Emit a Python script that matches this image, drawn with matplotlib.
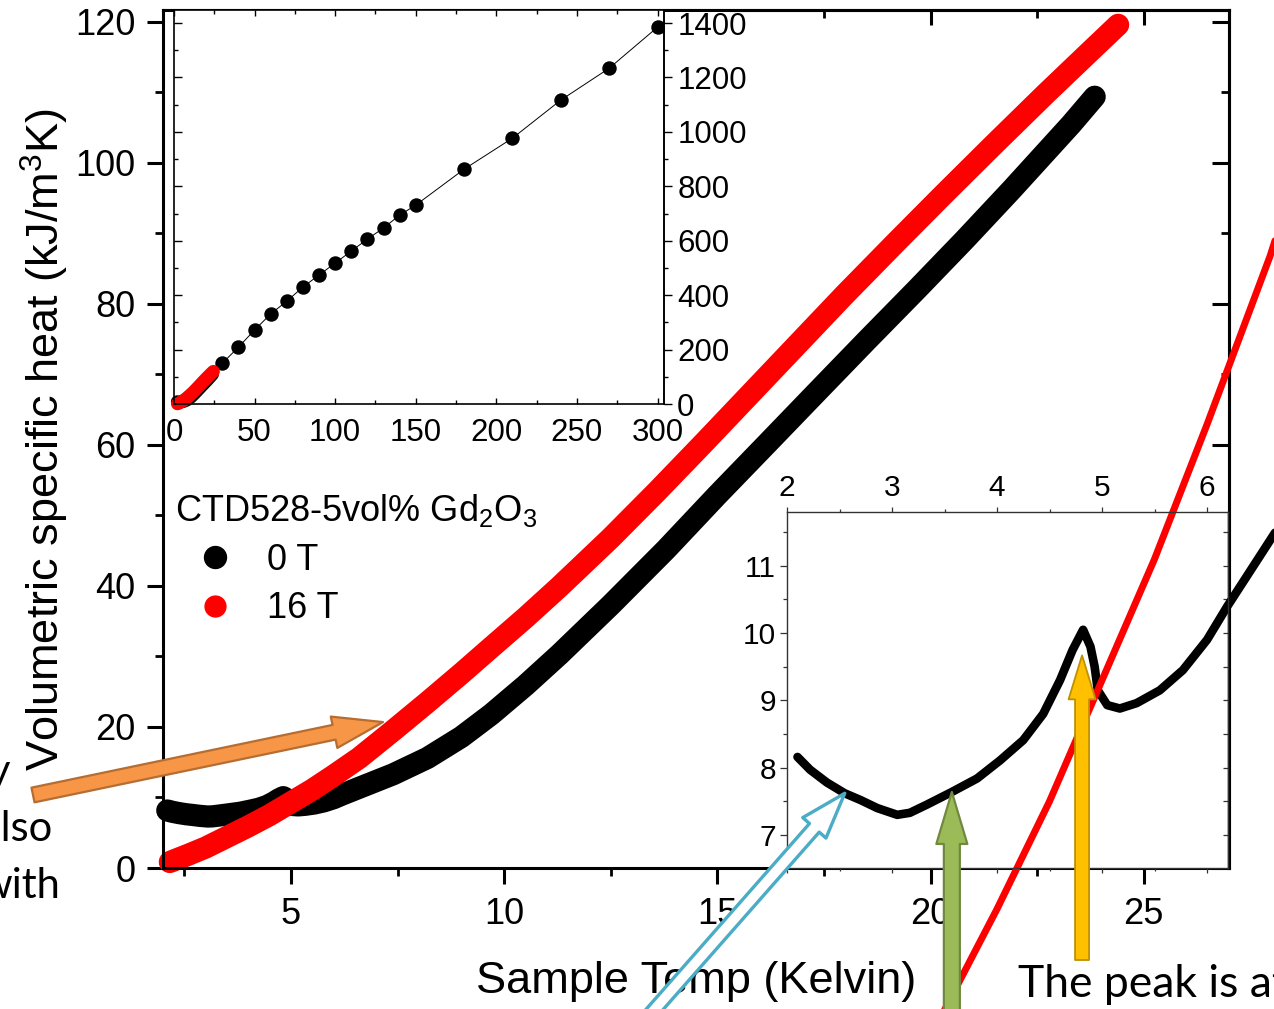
import numpy as np
import matplotlib.pyplot as plt
from matplotlib.lines import Line2D
from matplotlib.patches import Rectangle
from matplotlib.ticker import MultipleLocator

plt.rcParams['font.family'] = ['Liberation Sans', 'DejaVu Sans']
plt.rcParams['mathtext.default'] = 'regular'

# specific heat, 0 T (K, kJ/m^3K)
t_0T = [2.10, 2.22, 2.38, 2.55, 2.70, 2.86, 3.05, 3.17, 3.33, 3.57, 3.81, 4.03,
        4.25, 4.44, 4.60, 4.72, 4.82, 4.89, 4.93, 4.96, 5.05, 5.17, 5.33, 5.55,
        5.77, 6.00, 6.19, 6.63, 7.40, 8.20, 9.00, 9.70, 10.5, 11.3, 12.5, 13.8,
        15.0, 16.2, 17.3, 18.5, 19.7, 20.8, 21.9, 23.3, 23.85]
c_0T = [8.16, 7.97, 7.78, 7.62, 7.52, 7.40, 7.30, 7.33, 7.45, 7.64, 7.84, 8.11,
        8.41, 8.80, 9.30, 9.75, 10.05, 9.80, 9.50, 9.15, 8.93, 8.88, 8.96, 9.15,
        9.45, 9.90, 10.39, 11.45, 13.3, 15.6, 18.6, 21.8, 25.9, 30.3, 37.3, 45.2,
        52.9, 60.4, 67.3, 74.8, 82.2, 89.1, 96.2, 105.5, 109.4]

# specific heat, 16 T
t_16T = [2.16, 2.60, 3.00, 3.50, 4.00, 4.50, 5.00, 5.50, 6.00, 6.60, 7.40, 8.20,
         9.00, 9.70, 10.5, 11.3, 12.5, 13.6, 14.7, 15.8, 16.9, 18.0, 19.2, 20.3,
         21.5, 22.7, 23.6, 24.4]
c_16T = [0.85, 1.9, 2.9, 4.4, 5.9, 7.5, 9.3, 11.1, 13.1, 15.6, 19.5, 23.5,
         27.6, 31.3, 35.5, 39.9, 46.8, 53.5, 60.4, 67.4, 74.4, 81.4, 88.8, 95.5,
         102.7, 109.8, 115.0, 119.6]

# 0 T, wide temperature range
t_hi = [30, 40, 50, 60, 70, 80, 90, 100, 110, 120, 130, 140, 150, 180, 210, 240, 270, 300]
c_hi = [150, 209, 272, 331, 378, 430, 474, 518, 562, 606, 647, 694, 731, 863, 977, 1117, 1234, 1385]

W, H = 1274, 1009
fig = plt.figure(figsize=(W / 100, H / 100), dpi=100)


def px_box(l, t, r, b):
    return [l / W, 1 - b / H, (r - l) / W, (b - t) / H]


# ---- main panel -------------------------------------------------------------
ax = fig.add_axes(px_box(163, 10, 1229, 868))
ax.plot(t_0T, c_0T, color='black', lw=16, solid_capstyle='round',
        solid_joinstyle='round', clip_on=False)
ax.plot(t_16T, c_16T, color='red', lw=16, solid_capstyle='round',
        solid_joinstyle='round', clip_on=False)
ax.set_xlim(2, 27)
ax.set_ylim(0, 121.7)
ax.xaxis.set_major_locator(MultipleLocator(5))
ax.xaxis.set_minor_locator(MultipleLocator(2.5))
ax.yaxis.set_major_locator(MultipleLocator(20))
ax.yaxis.set_minor_locator(MultipleLocator(10))
for s in ax.spines.values():
    s.set_linewidth(2.2)
ax.tick_params(which='major', direction='out', length=11.5, width=2.2, labelsize=26)
ax.tick_params(which='minor', direction='out', length=5.8, width=2)
ax.tick_params(axis='x', pad=9.5)
ax.tick_params(axis='y', pad=8.5)

top = ax.secondary_xaxis('top')
top.xaxis.set_major_locator(MultipleLocator(5))
top.xaxis.set_minor_locator(MultipleLocator(2.5))
top.tick_params(which='major', direction='in', length=11, width=2.2, labeltop=False)
top.tick_params(which='minor', direction='in', length=5.5, width=2)
top.spines['top'].set_linewidth(2.2)
right = ax.secondary_yaxis('right')
right.yaxis.set_major_locator(MultipleLocator(20))
right.yaxis.set_minor_locator(MultipleLocator(10))
right.tick_params(which='major', direction='in', length=12, width=2.2, labelright=False)
right.tick_params(which='minor', direction='in', length=6, width=2)
right.spines['right'].set_linewidth(2.2)

ax.set_xlabel('Sample Temp (Kelvin)', fontsize=32.5)
ax.xaxis.set_label_coords((696 - 163) / 1066, (868 - 981) / 858)
ax.xaxis.label.set_va('center')
ax.set_ylabel('Volumetric specific heat (kJ/m$^3$K)', fontsize=32.5)
ax.yaxis.set_label_coords((45 - 163) / 1066, (868 - 440) / 858)
ax.yaxis.label.set_va('center')

handles = [Line2D([], [], ls='none', marker='o', color='black', markersize=15.8),
           Line2D([], [], ls='none', marker='o', color='red', markersize=15)]
ax.legend(handles, ['0 T', '16 T'], title='CTD528-5vol% Gd$_2$O$_3$',
          loc='upper left', bbox_to_anchor=(175 / W, 1 - 492 / H),
          bbox_transform=fig.transFigure, frameon=False, fontsize=26,
          title_fontsize=26, borderpad=0, borderaxespad=0, handlelength=2.2,
          handletextpad=0.35, labelspacing=0.38, alignment='left')

# ---- inset: full temperature range -------------------------------------------
ax1 = fig.add_axes(px_box(174, 10, 664, 404))
ax1.add_patch(Rectangle((-0.016, 0.02), 1.15, 0.975, transform=ax1.transAxes,
                        facecolor='white', edgecolor='none', zorder=-1, clip_on=False))
ax1.plot(t_hi, c_hi, color='black', lw=0.7, marker='o', markersize=9.4)
ax1.plot(t_0T, c_0T, color='black', lw=9.4, solid_capstyle='round', clip_on=False)
ax1.plot(t_16T, c_16T, color='red', lw=9.4, solid_capstyle='round', clip_on=False)
ax1.set_xlim(0, 304)
ax1.set_ylim(0, 1448)
ax1.xaxis.set_major_locator(MultipleLocator(50))
ax1.xaxis.set_minor_locator(MultipleLocator(25))
ax1.yaxis.set_major_locator(MultipleLocator(200))
ax1.yaxis.set_minor_locator(MultipleLocator(100))
for s in ax1.spines.values():
    s.set_linewidth(1.2)
ax1.tick_params(axis='x', which='both', direction='in', top=True, bottom=True,
                labelsize=22.5, pad=10, width=1)
ax1.tick_params(axis='x', which='major', length=4.3)
ax1.tick_params(axis='x', which='minor', length=3)
ax1.tick_params(axis='y', which='both', direction='in', labelleft=False, width=1)
ax1.tick_params(axis='y', which='major', length=5.8)
ax1.tick_params(axis='y', which='minor', length=3)
r1 = ax1.secondary_yaxis('right')
r1.yaxis.set_major_locator(MultipleLocator(200))
r1.yaxis.set_minor_locator(MultipleLocator(100))
r1.tick_params(which='both', direction='out', labelsize=22.5, pad=4, width=1)
r1.tick_params(which='major', length=5.5)
r1.tick_params(which='minor', length=3)
r1.spines['right'].set_linewidth(1.2)

# ---- inset: transition region ------------------------------------------------
ax2 = fig.add_axes(px_box(787, 512, 1228, 868))
ax2.set_facecolor('white')
ax2.plot(t_0T, c_0T, color='black', lw=6.2, solid_capstyle='round',
         solid_joinstyle='round', clip_on=False)
ax2.plot(t_16T, c_16T, color='red', lw=5, solid_capstyle='round', clip_on=False)
ax2.set_xlim(2, 6.2)
ax2.set_ylim(6.51, 11.8)
ax2.xaxis.set_major_locator(MultipleLocator(1))
ax2.xaxis.set_minor_locator(MultipleLocator(0.5))
ax2.yaxis.set_major_locator(MultipleLocator(1))
ax2.yaxis.set_minor_locator(MultipleLocator(0.5))
for s in ax2.spines.values():
    s.set_linewidth(1.0)
    s.set_color('#333333')
ax2.tick_params(axis='x', which='both', direction='out', top=True, bottom=True,
                labeltop=True, labelbottom=False, labelsize=21.5, pad=3.5, width=0.9,
                color='#333333')
ax2.tick_params(axis='x', which='major', length=3.6)
ax2.tick_params(axis='x', which='minor', length=2.2)
ax2.tick_params(axis='y', which='both', direction='out', labelsize=21.5, pad=3,
                width=0.9, color='#333333')
ax2.tick_params(axis='y', which='major', length=5)
ax2.tick_params(axis='y', which='minor', length=2.8)
r2 = ax2.secondary_yaxis('right')
r2.yaxis.set_major_locator(MultipleLocator(1))
r2.yaxis.set_minor_locator(MultipleLocator(0.5))
r2.tick_params(which='both', direction='in', length=3.6, width=0.9,
               labelright=False, color='#333333')
r2.spines['right'].set_linewidth(1.0)

# ---- overlay: callout arrows and slide text ------------------------------------
over = fig.add_axes([0, 0, 1, 1])
over.set_xlim(0, W)
over.set_ylim(H, 0)
over.set_axis_off()


def block_arrow(xy, xycoords, xytext, textcoords, tail, head_w, head_l, fc, ec, lw):
    style = (f'simple,head_length={head_l * 0.72},head_width={head_w * 0.72},'
             f'tail_width={tail * 0.72}')
    over.annotate('', xy=xy, xycoords=xycoords, xytext=xytext, textcoords=textcoords,
                  annotation_clip=False,
                  arrowprops=dict(arrowstyle=style, fc=fc, ec=ec, lw=lw,
                                  shrinkA=0, shrinkB=0, mutation_scale=1))


block_arrow((7.16, 20.7), ax.transData, (33, 795), over.transData,
            15, 32, 50, '#F79646', '#B66D31', 1.6)
block_arrow((2.55, 7.62), ax2.transData, (640, 1026), over.transData,
            13, 31, 46, 'white', '#4BACC6', 2.4)
block_arrow((3.57, 7.64), ax2.transData, (3.57, 1030), (ax2.transData, over.transData),
            16, 31, 52, '#9BBB59', '#71893F', 1.6)
block_arrow((4.81, 9.67), ax2.transData, (4.81, 960), (ax2.transData, over.transData),
            14, 27, 44, '#FFC000', '#BF9000', 1.3)

slide_font = ['Lato', 'DejaVu Sans']
over.text(10, 784, 'y', ha='right', va='baseline', fontsize=30, family=slide_font)
over.text(53, 841, 'also', ha='right', va='baseline', fontsize=30, family=slide_font)
over.text(60, 898, 'with', ha='right', va='baseline', fontsize=30, family=slide_font)
over.text(1018, 997, 'The peak is at', ha='left', va='baseline', fontsize=32,
          family=slide_font)

fig.savefig('out.png', dpi=100)
